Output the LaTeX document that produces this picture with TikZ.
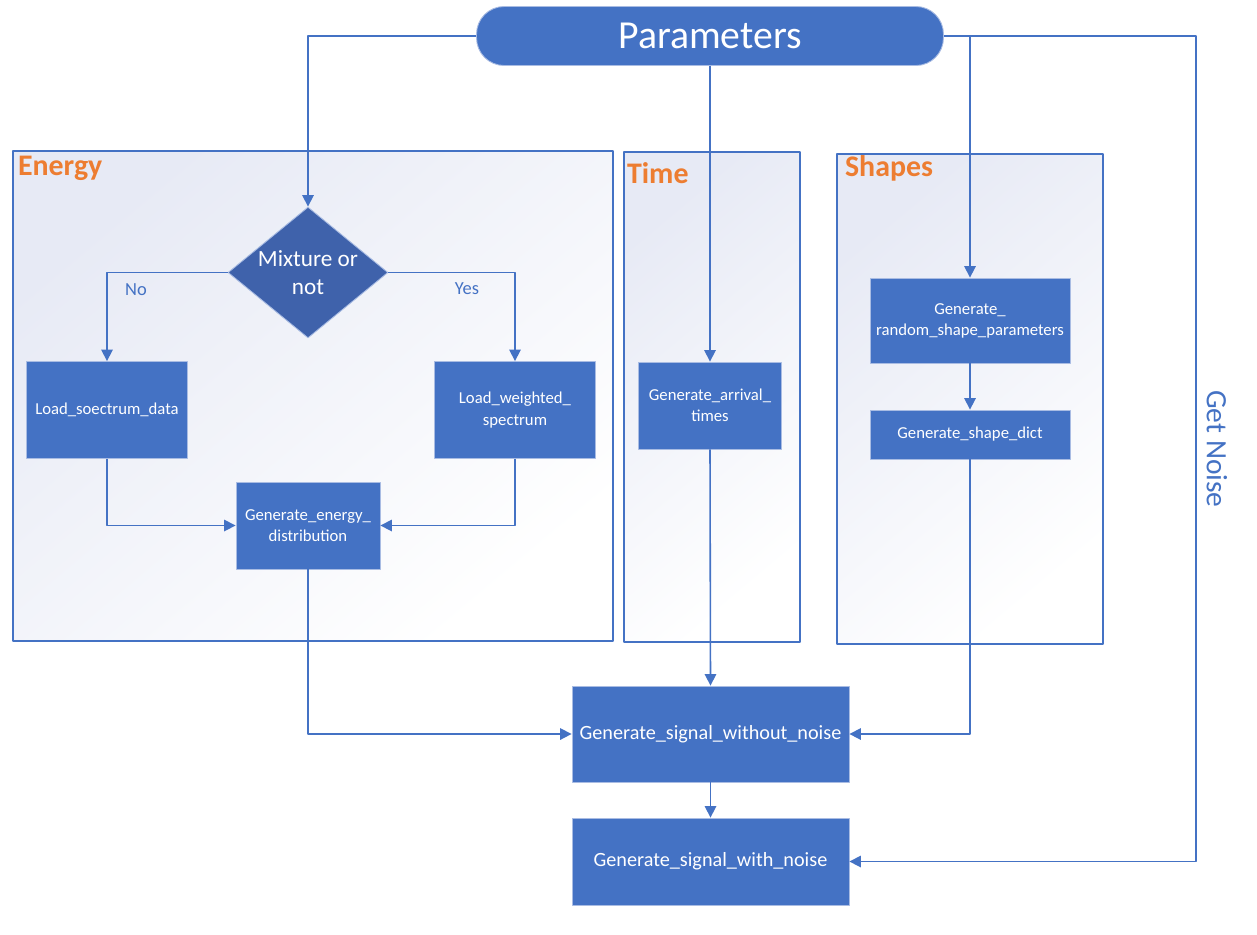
\documentclass[tikz,border=0pt]{standalone}
\usepackage{fontspec}
\setmainfont{Carlito}
\usetikzlibrary{shapes.geometric,arrows.meta}
\definecolor{boxblue}{HTML}{4472C4}
\definecolor{boxline}{HTML}{A9BCE3}
\definecolor{mixblue}{HTML}{3F62AB}
\definecolor{panelfill}{HTML}{E7EAF5}
\definecolor{titleorange}{HTML}{ED7D31}
\tikzset{
  proc/.style={rectangle, draw=boxline, line width=0.5pt, fill=boxblue, text=white,
    align=center, inner sep=1pt, font=\fontsize{9.5}{12}\selectfont},
  bigproc/.style={proc, font=\fontsize{11.5}{14}\selectfont},
  panel/.style={draw=boxblue, line width=0.6pt, top color=panelfill, bottom color=white, shading angle=40},
  paneltitle/.style={anchor=west, inner sep=1pt, text=titleorange, font=\fontsize{17}{20}\selectfont\bfseries},
  arr/.style={draw=boxblue, line width=0.9pt, -{Triangle[width=6.5pt,length=6.5pt]}},
  lbl/.style={text=boxblue, inner sep=1pt, font=\fontsize{10.5}{12}\selectfont},
}
\begin{document}
\begin{tikzpicture}[x=0.02cm,y=-0.02cm,line join=round]
  \useasboundingbox (0,0) rectangle (1257,934);
  % panels
  \path[panel] (13,151) rectangle (613,641);
  \path[panel] (624,152) rectangle (800,642);
  \path[panel] (837,154) rectangle (1103,644);
  \node[paneltitle] (energy) at (16,168) {Energy};
  \node[paneltitle] (time) at (625,173) {Time};
  \node[paneltitle] (shapes) at (843,168) {Shapes};

  % nodes
  \node[proc, rounded corners=0.55cm, minimum width=9.34cm, minimum height=1.18cm,
    font=\fontsize{22.6}{26}\selectfont] (param) at (710,36) {Parameters};
  \node[diamond, aspect=1.22, fill=mixblue, draw=boxline, line width=0.5pt, text=white, align=center,
    inner sep=-4pt, minimum width=3.2cm, minimum height=2.62cm,
    font=\fontsize{13.2}{15.5}\selectfont] (mix) at (308,272.5) {Mixture or\\not};
  \node[proc, minimum width=3.22cm, minimum height=1.94cm] (loadsp) at (107,410) {Load\_soectrum\_data};
  \node[proc, minimum width=3.22cm, minimum height=1.94cm] (loadwt) at (515,410) {Load\_weighted\_\\spectrum};
  \node[proc, minimum width=2.88cm, minimum height=1.74cm] (edist) at (308,525.5) {Generate\_energy\_\\distribution};
  \node[proc, minimum width=2.86cm, minimum height=1.74cm] (arrive) at (710,405.5) {Generate\_arrival\_\\times};
  \node[proc, minimum width=4.0cm, minimum height=1.7cm] (shparam) at (970,320.5) {Generate\_\\random\_shape\_parameters};
  \node[proc, minimum width=4.0cm, minimum height=0.98cm] (shdict) at (970,434.5) {Generate\_shape\_dict};
  \node[bigproc, minimum width=5.54cm, minimum height=1.92cm] (sigclean) at (710.5,734) {Generate\_signal\_without\_noise};
  \node[bigproc, minimum width=5.54cm, minimum height=1.74cm] (signoise) at (710.5,861.5) {Generate\_signal\_with\_noise};

  \node[lbl] (no) at (136,290) {No};
  \node[lbl] (yes) at (467,289) {Yes};
  \coordinate (noise) at (1196,449);
  \node[text=boxblue, rotate=-90, inner sep=1pt, font=\fontsize{16.8}{20}\selectfont] (getnoise) at (1217,449) {Get Noise};

  % connectors
  \draw[arr] (param.west) -| (mix.north);
  \draw[arr] (param.south) -- (arrive.north);
  \draw[arr] (param.east -| shparam.north) -- (shparam.north);
  \draw[arr] (param.east) -| (noise) |- (signoise.east);
  \draw[arr] (mix.west) -| (loadsp.north);
  \draw[arr] (mix.east) -| (loadwt.north);
  \draw[arr] (loadsp.south) |- (edist.west);
  \draw[arr] (loadwt.south) |- (edist.east);
  \draw[arr] (edist.south) |- (sigclean.west);
  \draw[arr] (arrive.south) -- (sigclean.north);
  \draw[arr] (shparam) -- (shdict);
  \draw[arr] (shdict.south) |- (sigclean.east);
  \draw[arr] (sigclean) -- (signoise);
\end{tikzpicture}
\end{document}
